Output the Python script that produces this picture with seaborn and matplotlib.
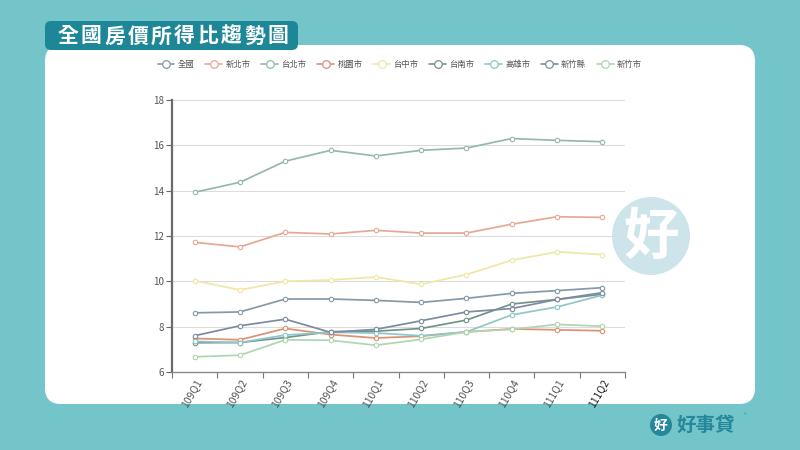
import matplotlib
matplotlib.use('Agg')
import matplotlib.pyplot as plt
import seaborn as sns
import pandas as pd
from matplotlib.patches import FancyBboxPatch, Circle
from matplotlib.lines import Line2D

# ---------------- data ----------------
quarters = ['109Q1', '109Q2', '109Q3', '109Q4', '110Q1', '110Q2', '110Q3', '110Q4', '111Q1', '111Q2']
cities = ['全國', '新北市', '台北市', '桃園市', '台中市', '台南市', '高雄市', '新竹縣', '新竹市']

national = [8.61, 8.65, 9.22, 9.22, 9.16, 9.07, 9.25, 9.47, 9.59, 9.72]
new_taipei = [11.72, 11.52, 12.16, 12.09, 12.25, 12.13, 12.13, 12.52, 12.85, 12.82]
taipei = [13.93, 14.37, 15.30, 15.78, 15.53, 15.78, 15.88, 16.30, 16.22, 16.16]
taoyuan = [7.48, 7.42, 7.92, 7.65, 7.50, 7.58, 7.77, 7.90, 7.86, 7.82]
taichung = [10.03, 9.62, 10.00, 10.06, 10.19, 9.87, 10.30, 10.93, 11.30, 11.18]
tainan = [7.29, 7.30, 7.52, 7.78, 7.80, 7.92, 8.29, 9.00, 9.20, 9.43]
kaohsiung = [7.35, 7.30, 7.63, 7.75, 7.72, 7.60, 7.77, 8.52, 8.87, 9.39]
hsinchu_county = [7.60, 8.04, 8.33, 7.75, 7.88, 8.26, 8.65, 8.80, 9.20, 9.50]
hsinchu_city = [6.67, 6.74, 7.42, 7.40, 7.18, 7.44, 7.77, 7.88, 8.10, 8.02]

series = [national, new_taipei, taipei, taoyuan, taichung, tainan, kaohsiung, hsinchu_county, hsinchu_city]
y_ticks = [6, 8, 10, 12, 14, 16, 18]

palette = {
    '全國': '#8499a8', '新北市': '#e6a895', '台北市': '#94b8ab', '桃園市': '#dc9173',
    '台中市': '#f1e6a6', '台南市': '#74928a', '高雄市': '#8ec7ca', '新竹縣': '#7a8ca1',
    '新竹市': '#afd6ae',
}

df = pd.DataFrame([
    {'quarter': q, 'city': c, 'ratio': v}
    for c, vals in zip(cities, series) for q, v in zip(quarters, vals)
])

# ---------------- figure ----------------
sns.set_theme(style='white')
plt.rcParams['font.family'] = ['Noto Sans CJK TC', 'DejaVu Sans']

BG = '#74c5c9'
fig = plt.figure(figsize=(8, 4.5), dpi=100, facecolor=BG)

# background decorations in pixel coordinates
bg = fig.add_axes([0, 0, 1, 1], zorder=-5)
bg.set_xlim(0, 800)
bg.set_ylim(450, 0)
bg.axis('off')
bg.add_patch(FancyBboxPatch((45, 45), 710, 359, boxstyle='round,pad=0,rounding_size=16',
                            fc='white', ec='none'))
bg.add_patch(FancyBboxPatch((45, 21), 253, 29, boxstyle='round,pad=0,rounding_size=6',
                            fc='#1e8797', ec='none'))
title = '全國房價所得比趨勢圖'
for i, ch in enumerate(title):
    bg.text(68 + i * 23.3, 36, ch, color='white', fontsize=15, fontweight='bold',
            ha='center', va='center')
# watermark
bg.add_patch(Circle((651, 236), 39, fc='#cde5ea', ec='none'))
bg.text(651, 238, '好', color='white', fontsize=40, fontweight='bold', ha='center', va='center')
# bottom logo
bg.add_patch(Circle((661, 425), 11, fc='#25879a', ec='none'))
bg.text(661, 426, '好', color='white', fontsize=10, fontweight='bold', ha='center', va='center')
bg.text(676, 425, '好事貸', color='#25879a', fontsize=14, fontweight='bold', ha='left', va='center')
bg.text(744, 416, '®', color='#25879a', fontsize=4, ha='left', va='center')

ax = fig.add_axes([172 / 800, 1 - 372 / 450, (625 - 172) / 800, (372 - 100) / 450])
ax.set_facecolor('none')

sns.lineplot(data=df, x='quarter', y='ratio', hue='city', hue_order=cities, palette=palette,
             marker='o', markersize=3.2, linewidth=1.25, legend=False, ax=ax, sort=False)

for line in ax.lines:
    line.set_markerfacecolor('white')
    line.set_markeredgecolor(line.get_color())
    line.set_markeredgewidth(0.8)

ax.set_xlim(-0.5, len(quarters) - 0.5)
ax.set_ylim(6, 18)
ax.set_yticks(y_ticks)
ax.set_yticklabels([str(t) for t in y_ticks], fontsize=7, color='#555555')
ax.set_xticks(range(len(quarters)))
ax.set_xticklabels(quarters, rotation=60, ha='right', va='top', rotation_mode='anchor',
                   fontsize=7.5, color='#555555')
ax.get_xticklabels()[-1].set_color('#222222')
ax.set_xticks([i - 0.5 for i in range(len(quarters) + 1)], minor=True)
ax.tick_params(axis='x', which='major', length=0, pad=4)
ax.tick_params(axis='x', which='minor', length=4, color='#777777', width=0.8, bottom=True)
ax.tick_params(axis='y', length=4, color='#666666', width=0.8, left=True, pad=2)
ax.set_xlabel('')
ax.set_ylabel('')
ax.grid(axis='y', color='#dcdcdc', linewidth=0.8)
ax.grid(axis='x', visible=False)
for s in ['top', 'right']:
    ax.spines[s].set_visible(False)
ax.spines['left'].set_color('#6a6a6a')
ax.spines['left'].set_linewidth(1.6)
ax.spines['bottom'].set_color('#8a8a8a')
ax.spines['bottom'].set_linewidth(1.0)

handles = [Line2D([0], [0], color=palette[c], lw=1.2, marker='o', markersize=5.5,
                  markerfacecolor='white', markeredgecolor=palette[c], markeredgewidth=0.9)
           for c in cities]
fig.legend(handles, cities, loc='center', bbox_to_anchor=(0.5, 1 - 64 / 450), ncol=9,
           frameon=False, fontsize=6, handlelength=2.0, handletextpad=0.4,
           columnspacing=1.3, labelcolor='#555555')

fig.savefig('out.png', dpi=100, facecolor=BG)
